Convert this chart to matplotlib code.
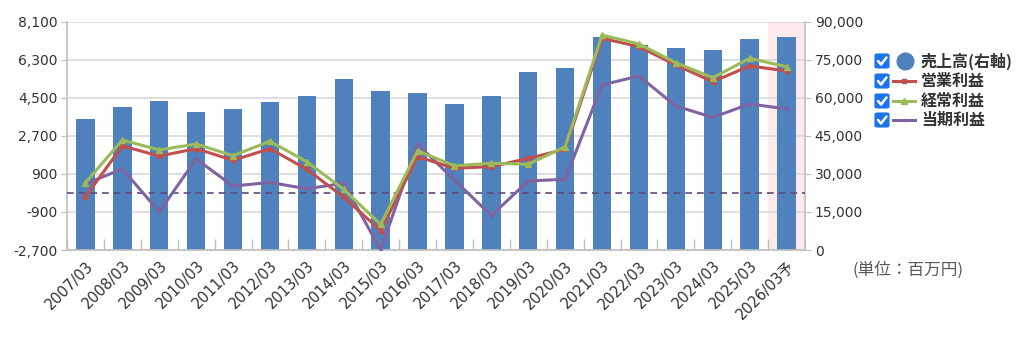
import matplotlib
matplotlib.use("Agg")
import matplotlib.pyplot as plt
from matplotlib.patches import FancyBboxPatch
from matplotlib.lines import Line2D
import numpy as np

plt.rcParams['font.family'] = ['DejaVu Sans', 'Noto Sans CJK JP']

categories = ["2007/03", "2008/03", "2009/03", "2010/03", "2011/03", "2012/03",
              "2013/03", "2014/03", "2015/03", "2016/03", "2017/03", "2018/03",
              "2019/03", "2020/03", "2021/03", "2022/03", "2023/03", "2024/03",
              "2025/03", "2026/03予"]

sales = [51700, 56600, 58900, 54500, 55650, 58300, 60900, 67400, 62600, 62100,
         57750, 60900, 70100, 71700, 84200, 80900, 79850, 78800, 83150, 84200]

operating = [-180, 2230, 1750, 2100, 1550, 2100, 1120, -200, -1780, 1720,
             1170, 1250, 1640, 2070, 7330, 6930, 6060, 5270, 6020, 5780]

ordinary = [490, 2510, 2040, 2320, 1770, 2450, 1480, 170, -1490, 2000,
            1290, 1410, 1360, 2190, 7480, 7060, 6170, 5460, 6380, 5980]

net = [430, 1140, -890, 1610, 330, 500, 200, 460, -2700, 2320,
       610, -1070, 570, 650, 5120, 5540, 4120, 3580, 4220, 3980]

left_ticks = [-2700, -900, 900, 2700, 4500, 6300, 8100]
right_ticks = [0, 15000, 30000, 45000, 60000, 75000, 90000]

legend_labels = ["売上高(右軸)", "営業利益", "経常利益", "当期利益"]
unit_label = "(単位：百万円)"

C_BAR = '#4f81bd'
C_RED = '#c0504d'
C_GREEN = '#9bbb59'
C_PURPLE = '#8064a2'
C_GRID = '#d9d9d9'
C_AX = '#bfbfbf'
C_TXT = '#333333'

W, H = 1024, 355
fig = plt.figure(figsize=(W / 100, H / 100), dpi=100)
L, R, T, B = 67, 805, 22, 250
ax = fig.add_axes([L / W, 1 - B / H, (R - L) / W, (B - T) / H])
ax2 = ax.twinx()
ax.set_zorder(2)
ax2.set_zorder(1)
ax.patch.set_visible(False)

x = np.arange(len(categories))

# background band for forecast year
ax2.axvspan(len(categories) - 1.5, len(categories) - 0.5, color='#fdeaea', zorder=0, lw=0)
# bars on right axis
ax2.bar(x, sales, width=0.5, color=C_BAR, zorder=2)
ax2.set_ylim(right_ticks[0], right_ticks[-1])
ax2.set_yticks(right_ticks)
ax2.set_yticklabels([f"{v:,}" for v in right_ticks])
ax2.yaxis.grid(True, color=C_GRID, lw=1.2, zorder=1)
ax2.set_axisbelow(True)

# lines on left axis
ax.axhline(0, color='#5f497a', lw=1.2, ls=(0, (4, 3)), zorder=3)
ax.plot(x, operating, color=C_RED, lw=2.2, marker='s', ms=3.5, zorder=4)
ax.plot(x, ordinary, color=C_GREEN, lw=2.2, marker='^', ms=4.5, zorder=5)
ax.plot(x, net, color=C_PURPLE, lw=2.2, marker='.', ms=3, zorder=3.5)
ax.set_ylim(left_ticks[0], left_ticks[-1])
ax.set_yticks(left_ticks)
ax.set_yticklabels([f"{v:,}" for v in left_ticks])
ax.set_xlim(-0.5, len(categories) - 0.5)

ax.set_xticks(x)
ax.set_xticklabels(categories, rotation=45, ha='right', rotation_mode='anchor',
                   fontsize=10.5, color=C_TXT)
ax.set_xticks(np.arange(-0.5, len(categories), 1.0), minor=True)
ax.tick_params(axis='x', which='major', length=0, pad=6)
ax.tick_params(axis='x', which='minor', direction='in', length=8, color=C_AX, width=1)
ax.tick_params(axis='y', length=4, color=C_AX, labelsize=10, labelcolor=C_TXT, pad=3)
ax2.tick_params(axis='y', length=4, color=C_AX, labelsize=10, labelcolor=C_TXT, pad=3)

for a in (ax, ax2):
    a.spines['top'].set_visible(False)
    for s in ('left', 'right', 'bottom'):
        a.spines[s].set_color(C_AX)
        a.spines[s].set_linewidth(1.2)
ax.spines['right'].set_visible(False)
ax2.spines['left'].set_visible(False)
ax2.spines['bottom'].set_visible(False)

# legend with checkboxes
def fx(px):
    return px / W

def fy(py):
    return 1 - py / H

rows = [61, 81, 101, 120]
handles = [
    dict(kind='circle', color=C_BAR),
    dict(kind='line', color=C_RED, marker='s', ms=3.5),
    dict(kind='line', color=C_GREEN, marker='^', ms=4.5),
    dict(kind='line', color=C_PURPLE, marker='.', ms=3),
]
for yy, lab, h in zip(rows, legend_labels, handles):
    box = FancyBboxPatch((fx(875), fy(yy + 7)), fx(14), 14 / H,
                         boxstyle="round,pad=0,rounding_size=0.003",
                         transform=fig.transFigure, facecolor='#1a73e8',
                         edgecolor='#1a73e8', lw=0.8)
    fig.patches.append(box)
    fig.add_artist(Line2D([fx(878), fx(881), fx(886.5)], [fy(yy), fy(yy + 3.5), fy(yy - 3.5)],
                          transform=fig.transFigure, color='white', lw=1.8,
                          solid_capstyle='round', solid_joinstyle='round'))
    if h['kind'] == 'circle':
        fig.add_artist(Line2D([fx(905)], [fy(yy)], transform=fig.transFigure,
                              marker='o', ms=12, color=h['color'], lw=0))
    else:
        fig.add_artist(Line2D([fx(893), fx(915)], [fy(yy), fy(yy)], transform=fig.transFigure,
                              color=h['color'], lw=2.2, marker=None))
        fig.add_artist(Line2D([fx(904)], [fy(yy)], transform=fig.transFigure,
                              color=h['color'], marker=h['marker'], ms=h['ms'], lw=0))
    fig.text(fx(921), fy(yy), lab, fontsize=11.5, fontweight='bold', color=C_TXT,
             va='center', ha='left', family=['Noto Sans CJK JP', 'DejaVu Sans'])

fig.text(fx(852), fy(270), unit_label, fontsize=12, color='#595959', va='center', ha='left',
         family=['Noto Sans CJK JP', 'DejaVu Sans'])

fig.savefig("out.png", dpi=100)
